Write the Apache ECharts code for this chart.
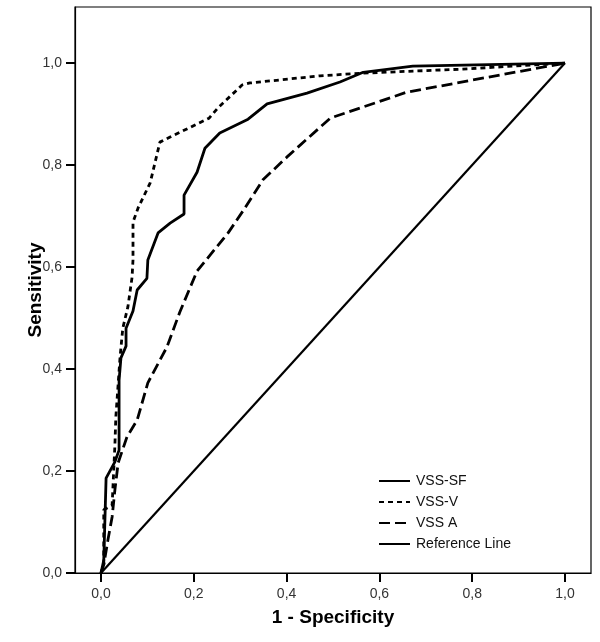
<!DOCTYPE html>
<html>
<head>
<meta charset="utf-8">
<script src="https://cdn.jsdelivr.net/npm/echarts@6/dist/echarts.min.js"></script>
<style>
html,body{margin:0;padding:0;background:#fff;}
#chart{width:600px;height:642px;}
</style>
</head>
<body>
<div id="chart"></div>
<script>
const tickValues = [0, 0.2, 0.4, 0.6, 0.8, 1.0];
const seriesNames = ['VSS-SF', 'VSS-V', 'VSS A', 'Reference Line'];

const sfX = [0, 0.006, 0.011, 0.030, 0.039, 0.039, 0.043, 0.054, 0.054, 0.069, 0.078, 0.099, 0.101, 0.123, 0.149, 0.179, 0.179, 0.207, 0.224, 0.256, 0.317, 0.358, 0.444, 0.515, 0.565, 0.672, 1];
const sfY = [0, 0.025, 0.186, 0.218, 0.241, 0.378, 0.422, 0.445, 0.480, 0.514, 0.555, 0.578, 0.614, 0.667, 0.686, 0.704, 0.741, 0.786, 0.833, 0.863, 0.890, 0.920, 0.941, 0.963, 0.982, 0.994, 1];

const vX = [0, 0.006, 0.006, 0.024, 0.030, 0.032, 0.041, 0.047, 0.058, 0.067, 0.069, 0.069, 0.080, 0.106, 0.127, 0.149, 0.233, 0.252, 0.304, 0.321, 0.472, 0.558, 0.774, 1];
const vY = [0, 0.016, 0.124, 0.133, 0.251, 0.306, 0.422, 0.480, 0.522, 0.580, 0.614, 0.688, 0.716, 0.765, 0.845, 0.855, 0.892, 0.912, 0.957, 0.961, 0.975, 0.980, 0.988, 1];

const aX = [0, 0.006, 0.015, 0.024, 0.030, 0.037, 0.056, 0.078, 0.101, 0.142, 0.170, 0.207, 0.274, 0.306, 0.349, 0.401, 0.494, 0.659, 1];
const aY = [0, 0.016, 0.065, 0.110, 0.163, 0.216, 0.267, 0.300, 0.373, 0.443, 0.512, 0.592, 0.667, 0.710, 0.771, 0.816, 0.892, 0.943, 1];

const refX = [0, 1];
const refY = [0, 1];

function pairs(xs, ys) { return xs.map((x, i) => [x, ys[i]]); }
const fmt = v => v.toFixed(1).replace('.', ',');

const chart = echarts.init(document.getElementById('chart'), null, {renderer: 'canvas'});
const font = 'Liberation Sans, Arial, sans-serif';
chart.setOption({
  animation: false,
  backgroundColor: '#fff',
  grid: {left: 75, right: 9, top: 7, bottom: 69, show: true, borderColor: '#000', borderWidth: 1.2, backgroundColor: 'transparent'},
  xAxis: {
    type: 'value', min: -0.056, max: 1.056,
    name: '1 - Specificity', nameLocation: 'middle', nameGap: 35, nameMoveOverlap: false,
    nameTextStyle: {fontFamily: font, fontSize: 19, fontWeight: 'bold', color: '#000'},
    axisLine: {show: true, onZero: false, lineStyle: {color: '#000', width: 1.2}},
    axisTick: {show: true, inside: false, length: 9, customValues: tickValues, lineStyle: {color: '#000', width: 2}},
    axisLabel: {customValues: tickValues, formatter: fmt, margin: 14, fontFamily: font, fontSize: 14, color: '#333'},
    splitLine: {show: false}
  },
  yAxis: {
    type: 'value', min: 0, max: 1.11,
    name: 'Sensitivity', nameLocation: 'middle', nameGap: 30, nameRotate: 90, nameMoveOverlap: false,
    nameTextStyle: {fontFamily: font, fontSize: 19, fontWeight: 'bold', color: '#000'},
    axisLine: {show: true, onZero: false, lineStyle: {color: '#000', width: 1.2}},
    axisTick: {show: true, inside: false, length: 9, customValues: tickValues, lineStyle: {color: '#000', width: 2}},
    axisLabel: {customValues: tickValues, formatter: fmt, margin: 13, fontFamily: font, fontSize: 14, color: '#333'},
    splitLine: {show: false}
  },
  legend: {
    orient: 'vertical', left: 373, top: 469,
    itemWidth: 31, itemHeight: 14, itemGap: 7,
    itemStyle: {color: 'transparent', borderColor: 'transparent', borderWidth: 0},
    textStyle: {fontFamily: font, fontSize: 14, color: '#111', padding: [0, 0, 0, 1]},
    data: seriesNames
  },
  series: [
    {name: seriesNames[0], type: 'line', data: pairs(sfX, sfY), symbol: 'none', color: '#000',
     lineStyle: {color: '#000', width: 2.8, type: 'solid'}},
    {name: seriesNames[1], type: 'line', data: pairs(vX, vY), symbol: 'none', color: '#000',
     lineStyle: {color: '#000', width: 2.8, type: [5, 4]}},
    {name: seriesNames[2], type: 'line', data: pairs(aX, aY), symbol: 'none', color: '#000',
     lineStyle: {color: '#000', width: 2.8, type: [11, 5]}},
    {name: seriesNames[3], type: 'line', data: pairs(refX, refY), symbol: 'none', color: '#000',
     lineStyle: {color: '#000', width: 2.2, type: 'solid'}}
  ]
});
</script>
</body>
</html>
